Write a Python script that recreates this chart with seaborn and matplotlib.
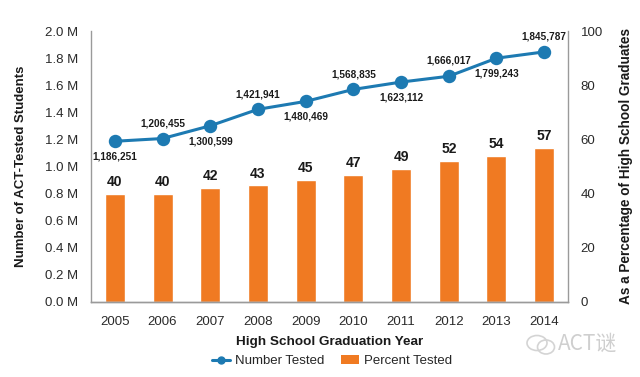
import matplotlib
matplotlib.use("Agg")
import matplotlib.pyplot as plt
import seaborn as sns
import pandas as pd
from matplotlib.lines import Line2D
from matplotlib.patches import Patch, Ellipse

years = ["2005", "2006", "2007", "2008", "2009", "2010", "2011", "2012", "2013", "2014"]
number_tested = [1186251, 1206455, 1300599, 1421941, 1480469, 1568835, 1623112, 1666017, 1799243, 1845787]
percent_tested = [40, 40, 42, 43, 45, 47, 49, 52, 54, 57]
label_above = [False, True, False, True, False, True, False, True, False, True]

sns.set_theme(style="white")
plt.rcParams['font.family'] = ['Liberation Sans', 'DejaVu Sans']

BLUE = "#1D7AB2"
ORANGE = "#F07A22"
SPINE = "#9a9a9a"
TXT = "#1a1a1a"

df = pd.DataFrame({"year": years, "number": number_tested, "percent": percent_tested})

fig = plt.figure(figsize=(6.4, 3.77), dpi=100)
ax = fig.add_axes([91/640, 1-302/377, (568-91)/640, (302-31)/377])
ax2 = ax.twinx()

# bars on the right (percent) axis
sns.barplot(data=df, x="year", y="percent", ax=ax2, color=ORANGE, width=0.42,
            saturation=1, order=years)
for i, p in enumerate(percent_tested):
    ax2.annotate(str(p), (i, p), xytext=(0, 8.5), textcoords="offset points",
                 ha="center", va="center", fontsize=10, fontweight="bold", color=TXT)

# line on the left (number) axis
sns.pointplot(data=df, x="year", y="number", ax=ax, color=BLUE, order=years,
              markers="o", linestyles="-", linewidth=2.2, markersize=8)
for i, (n, up) in enumerate(zip(number_tested, label_above)):
    ax.annotate(f"{n:,}", (i, n), xytext=(0, 11 if up else -11), textcoords="offset points",
                ha="center", va="center", fontsize=7.2, fontweight="bold", color=TXT)

ax.set_zorder(ax2.get_zorder() + 1)
ax.patch.set_visible(False)

ax.set_xlim(-0.5, 9.5)
ax.set_ylim(0, 2.0e6)
ax2.set_ylim(0, 100)
yt = [i * 0.2e6 for i in range(11)]
ax.set_yticks(yt)
ax.set_yticklabels([f"{v/1e6:.1f} M" for v in yt])
ax2.set_yticks([0, 20, 40, 60, 80, 100])

for a in (ax, ax2):
    a.tick_params(length=0, labelsize=9.5, colors="#2a2a2a", pad=9)
    a.set_ylabel("")
    a.set_xlabel("")
    for s in a.spines.values():
        s.set_color(SPINE)
        s.set_linewidth(1)
    a.spines["top"].set_visible(False)
ax2.spines["left"].set_visible(False)
ax.spines["right"].set_visible(False)
ax2.spines["right"].set_visible(True)
ax.tick_params(axis="x", pad=10)

ax.set_xlabel("High School Graduation Year", fontsize=9.7, fontweight="bold", color=TXT, labelpad=6)
ax.set_ylabel("Number of ACT-Tested Students", fontsize=9.5, fontweight="bold", color=TXT, labelpad=13)
ax2.set_ylabel("As a Percentage of High School Graduates", fontsize=9.8, fontweight="bold",
               color=TXT, labelpad=12)

handles = [Line2D([0], [0], color=BLUE, lw=2.2, marker="o", markersize=5),
           Patch(facecolor=ORANGE, edgecolor="none")]
fig.legend(handles, ["Number Tested", "Percent Tested"], loc="center",
           bbox_to_anchor=(332/640, 1-361/377), ncol=2, frameon=False,
           fontsize=9.5, handlelength=1.4, columnspacing=1.2, handletextpad=0.4)

# watermark
fig.patches.append(Ellipse((537/640, 1-343/377), 20/640, 15/377, transform=fig.transFigure,
                           fill=False, edgecolor="#d4d4d4", lw=1.2))
fig.patches.append(Ellipse((546/640, 1-347/377), 17/640, 14/377, transform=fig.transFigure,
                           fill=False, edgecolor="#d4d4d4", lw=1.2))
fig.text(558/640, 1-344/377, "ACT谜", fontsize=15, color="#cfcfcf", ha="left", va="center",
         family=["Noto Sans CJK SC", "DejaVu Sans"], fontweight="light")

fig.savefig("out.png", dpi=100, facecolor="white")
